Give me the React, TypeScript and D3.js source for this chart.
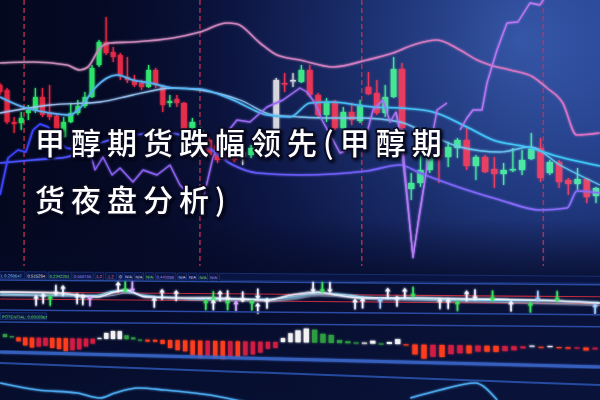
import React from 'react';
import * as d3 from 'd3';

const W = 600;
const H = 400;

// daily candles [open, high, low, close]
const candles: [number, number, number, number][] = [
  [2695, 2697, 2685, 2688], [2690, 2692, 2656, 2658], [2658, 2663, 2647, 2656], [2657, 2668, 2650, 2662],
  [2667, 2675, 2660, 2670], [2670, 2692, 2667, 2683], [2683, 2692, 2663, 2665], [2667, 2695, 2660, 2663],
  [2664, 2665, 2643, 2647], [2643, 2663, 2642, 2658], [2658, 2677, 2657, 2667], [2667, 2680, 2665, 2674],
  [2674, 2688, 2672, 2683], [2683, 2715, 2682, 2712], [2715, 2740, 2713, 2738], [2738, 2763, 2725, 2727],
  [2728, 2733, 2718, 2723], [2725, 2727, 2700, 2705], [2703, 2723, 2697, 2700], [2700, 2705, 2693, 2695],
  [2697, 2700, 2690, 2693], [2693, 2715, 2692, 2710], [2710, 2712, 2692, 2695], [2693, 2695, 2668, 2675],
  [2677, 2685, 2673, 2679], [2681, 2685, 2673, 2677], [2677, 2678, 2646, 2648], [2652, 2662, 2649, 2658],
  [2647, 2653, 2644, 2650], [2640, 2643, 2622, 2625], [2635, 2638, 2617, 2620], [2632, 2635, 2620, 2624],
  [2643, 2645, 2618, 2620], [2628, 2632, 2615, 2623], [2625, 2635, 2622, 2632], [2635, 2638, 2625, 2628],
  [2632, 2645, 2630, 2642], [2650, 2702, 2648, 2700], [2697, 2707, 2688, 2696], [2699, 2707, 2693, 2700],
  [2698, 2715, 2697, 2710], [2710, 2715, 2683, 2685], [2685, 2687, 2663, 2665], [2665, 2682, 2658, 2678],
  [2678, 2680, 2650, 2652], [2652, 2673, 2648, 2668], [2668, 2677, 2655, 2660], [2659, 2680, 2657, 2674],
  [2693, 2708, 2685, 2686], [2687, 2700, 2665, 2667], [2667, 2695, 2663, 2683], [2683, 2723, 2682, 2711],
  [2711, 2717, 2650, 2652], [2591, 2607, 2580, 2597], [2597, 2625, 2593, 2610], [2610, 2633, 2607, 2627],
  [2632, 2637, 2597, 2623], [2623, 2638, 2613, 2633], [2632, 2642, 2622, 2640], [2640, 2652, 2610, 2614],
  [2614, 2625, 2600, 2623], [2623, 2625, 2607, 2608], [2611, 2623, 2592, 2606], [2606, 2617, 2595, 2610],
  [2610, 2632, 2608, 2611], [2610, 2630, 2605, 2620], [2621, 2647, 2620, 2631], [2632, 2642, 2598, 2602],
  [2607, 2620, 2605, 2618], [2618, 2620, 2592, 2598], [2600, 2602, 2585, 2596], [2596, 2612, 2590, 2601],
  [2601, 2602, 2577, 2583], [2584, 2593, 2577, 2592],
];
const greyDays = [33, 37, 39];
const daySplits = [3.4, 27.9, 47.2, 67.3];

type Pt = [number, number | null];

const upperBand: Pt[] = [
  [0, 2717], [4.66, 2718], [9.47, 2715], [11.3, 2710], [12.43, 2713], [14.13, 2732], [15.54, 2737],
  [18.79, 2738], [24.45, 2742], [27.91, 2748], [31.13, 2757], [32.32, 2756], [35.06, 2737], [37.09, 2725],
  [39.83, 2720], [43.77, 2713], [47.82, 2720], [50.93, 2727], [53.19, 2735], [55.79, 2740], [58.28, 2730],
  [60.12, 2720], [61.52, 2715], [63.69, 2710], [66.18, 2703], [67.7, 2692], [69.4, 2677], [70.9, 2645],
  [73.4, 2647],
];
const midBand: Pt[] = [
  [0, 2683], [2.83, 2674], [7.07, 2667], [9.89, 2665], [11.3, 2672], [13.42, 2692], [15.12, 2702],
  [16.53, 2705], [18.79, 2700], [21.2, 2697], [24.45, 2692], [27.91, 2691], [31.84, 2680], [35.9, 2665],
  [38.64, 2663], [41.03, 2677], [43.77, 2678], [46.63, 2675], [48.54, 2673], [51.76, 2672], [55.35, 2668],
  [59.03, 2653], [61.85, 2640], [65.53, 2633], [69.1, 2623], [73.43, 2614],
];
const ma10: Pt[] = [
  [0, 2667], [7.07, 2675], [14.13, 2678], [18.79, 2685], [24.45, 2692], [27.91, 2690], [32.68, 2680],
  [36.61, 2665], [39.83, 2663], [43.41, 2662], [46.99, 2662], [51.76, 2658], [55.03, 2645], [58.28, 2633],
  [62.61, 2628], [65.85, 2633], [69.1, 2615], [73.43, 2595],
];
const lowerBand: Pt[] = [
  [0, 2617], [4.66, 2620], [9.47, 2623], [14.13, 2637], [18.79, 2645], [23.6, 2647], [27.91, 2638],
  [31.84, 2615], [34.71, 2607], [39.83, 2605], [47.82, 2609], [51.76, 2615], [53.95, 2607], [59.03, 2590],
  [62.61, 2580], [66.94, 2570], [69.87, 2572], [70.94, 2589], [73.43, 2587],
];
const blueTrace: Pt[] = [
  [0, 2585], [1.13, 2622], [2.54, 2630], [3.67, 2628], [4.66, 2650], [5.65, 2656], [6.78, 2653],
  [7.91, 2642], [9.33, 2632], [11.3, 2630], [13.42, 2635],
];
const violetTrace: Pt[] = [
  [12.29, 2640], [13.42, 2610], [14.55, 2623], [15.83, 2605], [16.96, 2612], [18.79, 2598], [20.21, 2610],
  [22.18, 2605], [24.02, 2615], [25.43, 2595], [27.07, 2582], [28.27, 2580], [29.46, 2623], [30.89, 2645],
  [32.32, 2660], [33.87, 2658], [35.9, 2673], [37.81, 2680], [39.83, 2692], [40.67, 2688], [41.62, 2677],
  [42.46, 2660], [43.77, 2640], [44.6, 2627], [45.56, 2630], [46.63, 2637], [47.82, 2647], [48.54, 2670],
  [49.73, 2680], [50.57, 2658], [51.28, 2668], [52.0, 2640], [53.19, 2523], [54.16, 2580], [54.81, 2620],
  [55.79, 2670], [56.87, 2677], [57.5, null], [58.28, 2650], [59.03, 2662], [59.68, 2670], [60.66, 2670],
  [61.2, 2697], [62.28, 2730], [63.36, 2757], [64.55, 2758], [65.85, 2777], [66.94, 2775], [67.8, 2788],
];
const violetSpike: Pt[] = [
  [51.28, 2668], [51.76, 2647], [53.19, 2522], [53.84, 2565], [54.38, 2595],
];

// signal panel
const sigMain: Pt[] = [
  [0, 20], [8.05, 19.5], [13.6, 15.8], [16.25, 21], [17.8, 23], [20.5, 16.2], [24.3, 15.4], [29.1, 15.7],
  [36.0, 14.1], [38.8, 19.3], [42.0, 22.5], [44.2, 19.7], [47.5, 16.9], [54.1, 17.4], [60.2, 16.8],
  [66.5, 16.3], [73.4, 13.8],
];
const sigFast: Pt[] = [
  [0, 18], [8.05, 17], [13.6, 17.5], [16.25, 22], [17.8, 21.5], [20.5, 17.5], [24.3, 16], [29.1, 14.5],
  [36.0, 15], [38.8, 17], [42.0, 21], [44.2, 21], [47.5, 18], [54.1, 16], [60.2, 15.5], [66.5, 15.5],
  [73.4, 14.5],
];
const sigSlow: Pt[] = [
  [0, 16.5], [8.05, 16.5], [13.6, 16], [16.25, 18], [17.8, 20], [20.5, 18], [24.3, 15], [29.1, 13.5],
  [36.0, 13], [38.8, 15], [42.0, 19], [44.2, 18.5], [47.5, 16], [54.1, 15], [60.2, 14], [66.5, 13],
  [73.4, 11.5],
];
const sigLevels = [20, 13];
// [day, level, direction (1 up, -1 down), tone]
const arrows: [number, number, number, string][] = [
  [5.1, 12, 1, 'w'], [6.1, 14, 1, 'w'], [7.1, 12, 1, 'g'], [7.9, 22, -1, 'w'], [8.9, 22, 1, 'w'],
  [10.9, 14, 1, 'w'], [11.7, 13, 1, 'w'], [12.7, 12, 1, 'p'], [16.7, 26, 1, 'w'], [17.7, 26, -1, 'g'],
  [18.7, 26, -1, 'p'], [21.8, 11, 1, 'w'], [22.9, 19, 1, 'w'], [24.9, 18, 1, 'w'], [28.6, 9, 1, 'g'],
  [29.5, 17, -1, 'g'], [29.5, 9, 1, 'w'], [30.3, 18, 1, 'w'], [31.2, 18, -1, 'w'], [31.2, 9, 1, 'g'],
  [32.2, 8, 1, 'p'], [33.0, 17, -1, 'w'], [34.1, 9, 1, 'g'], [34.8, 20, -1, 'w'], [34.8, 6, 1, 'w'],
  [35.9, 11, 1, 'w'], [41.4, 27, -1, 'w'], [42.5, 27, -1, 'g'], [43.4, 27, -1, 'w'], [46.4, 11, 1, 'w'],
  [47.3, 12, 1, 'w'], [49.4, 12, 1, 'b'], [50.3, 22, 1, 'w'], [51.4, 14, 1, 'w'], [52.3, 22, 1, 'w'],
  [53.2, 23, -1, 'g'], [56.1, 12, 1, 'w'], [57.0, 12, 1, 'w'], [58.0, 10, 1, 'g'], [59.0, 20, 1, 'w'],
  [59.9, 21, -1, 'w'], [61.8, 20, -1, 'g'], [63.8, 10, 1, 'w'], [65.9, 9, 1, 'g'], [66.7, 20, -1, 'b'],
  [68.8, 20, -1, 'g'], [72.9, 8, 1, 'b'],
];

const readout = [
  { t: 'L 0.260647', c: '#8fd0ff' }, { t: '0.515294', c: '#e6e6ee' }, { t: '0.2342251', c: '#62e070' },
  { t: '0.550755', c: '#8f8cff' }, { t: '1.2', c: '#ff6a6a' }, { t: '-1.2', c: '#ff6a6a' },
  { t: '0', c: '#ffffff' }, { t: 'N/A', c: '#d4dcff' }, { t: 'N/A', c: '#d4dcff' },
  { t: 'N/A', c: '#74e074' }, { t: '0.441056', c: '#a696ff' }, { t: 'N/A', c: '#d4dcff' },
  { t: 'N/A', c: '#d4dcff' }, { t: 'N/A', c: '#74e074' }, { t: 'N/A', c: '#a696ff' },
];

// MACD-style histogram
const hist = [
  3, 1, -4, -8, -10, -9, -8, -10, -11, -13, -12, -11, -8, -5, 1, 6, 8, 8, 4, 2,
  0, -2, -2, -4, -8, -10, -11, -15, -17, -15, -17, -18, -16, -16, -14, -13, -11, -7, -6, 4,
  9, 12, 14, 13, 9, 8, 3, 2, 1, 1, 3, 0.5, 2, 5, -1, -10, -14, -12, -12, -9,
  -8, -8, -6, -6, -6, -5, -4, -2, 1, -1, 1, -1, -1.5, -1, -3, -1.5,
];

const osc: Pt[] = [
  [0, 20], [5.4, 13], [10.9, 10], [14.1, 5], [16.25, 10], [19.5, 15], [23.3, 13], [29.1, 8], [33.3, 1],
  [40, null], [52.9, 5], [56.1, 13], [59.9, 20], [62.3, 3],
];

const titleLines = ['甲醇期货跌幅领先(甲醇期', '货夜盘分析)'];

const xMain = d3.scaleLinear().domain([0, 26, 52, 73]).range([0, 184, 402, 596]);
const yMain = d3.scaleLinear().domain([2500, 2780]).range([280, 0]);
const ySig = d3.scaleLinear().domain([0, 30]).range([312, 282]);
const xHist = d3.scaleLinear().domain([0, 20, 41, 54, 75]).range([5, 140, 298, 406, 595]);
const yHist = d3.scaleLinear().domain([0, 20]).range([337, 317]);
const yOsc = d3.scaleLinear().domain([0, 20]).range([403, 383]);

const upCol = d3.interpolateRgb('#22e35a', '#52e6ad');
const downCol = d3.interpolateRgb('#e3233b', '#e8456c');
const arrowCol: Record<string, string> = { w: '#f2f4ff', g: '#3ee25e', p: '#d6a8ff', b: '#a4ccff' };

const lineMain = d3.line<Pt>().defined(d => d[1] !== null).x(d => xMain(d[0])).y(d => yMain(d[1] as number)).curve(d3.curveMonotoneX);
const lineZig = d3.line<Pt>().defined(d => d[1] !== null).x(d => xMain(d[0])).y(d => yMain(d[1] as number));
const lineSig = d3.line<Pt>().x(d => xMain(d[0])).y(d => ySig(d[1] as number)).curve(d3.curveMonotoneX);
const lineOsc = d3.line<Pt>().defined(d => d[1] !== null).x(d => xMain(d[0])).y(d => yOsc(d[1] as number)).curve(d3.curveMonotoneX);

function step(i: number) {
  return xMain(i + 1) - xMain(i);
}

function arrowPath(cx: number, cy: number, dir: number) {
  const s = dir; // 1 = up
  const tip = cy - 5.5 * s;
  const neck = cy - 1.8 * s;
  const tail = cy + 5.5 * s;
  return `M${cx},${tip}L${cx - 2.8},${neck}L${cx - 0.8},${neck}L${cx - 0.8},${tail}L${cx + 0.8},${tail}L${cx + 0.8},${neck}L${cx + 2.8},${neck}Z`;
}

export default function App() {
  let cx = 1;
  const cells = readout.map(r => {
    const w = r.t.length * 2.3;
    const cell = { ...r, x: cx, w };
    cx += w + 3.6;
    return cell;
  });

  return (
    <svg width={W} height={H} viewBox={`0 0 ${W} ${H}`} style={{ position: 'absolute', left: 0, top: 0, display: 'block' }}>
      <defs>
        <radialGradient id="bgGlow" cx="520" cy="40" r="420" gradientUnits="userSpaceOnUse">
          <stop offset="0" stopColor="#3a5db2" />
          <stop offset="0.35" stopColor="#243f8a" />
          <stop offset="0.7" stopColor="#111d55" />
          <stop offset="1" stopColor="#070c2e" />
        </radialGradient>
        <linearGradient id="leftShade" x1="0" x2="600" y1="0" y2="0" gradientUnits="userSpaceOnUse">
          <stop offset="0" stopColor="#03071c" stopOpacity="0.85" />
          <stop offset="0.45" stopColor="#050a26" stopOpacity="0.35" />
          <stop offset="1" stopColor="#050a26" stopOpacity="0" />
        </linearGradient>
        <linearGradient id="bottomShade" x1="0" x2="0" y1="0" y2="400" gradientUnits="userSpaceOnUse">
          <stop offset="0.55" stopColor="#050a26" stopOpacity="0" />
          <stop offset="0.7" stopColor="#050a26" stopOpacity="0.75" />
          <stop offset="1" stopColor="#081236" stopOpacity="0.6" />
        </linearGradient>
        <linearGradient id="gUpper" x1="0" x2="600" gradientUnits="userSpaceOnUse">
          <stop offset="0" stopColor="#c48cb4" />
          <stop offset="1" stopColor="#d872c6" />
        </linearGradient>
        <linearGradient id="gMid" x1="0" x2="600" gradientUnits="userSpaceOnUse">
          <stop offset="0" stopColor="#5eaaf0" />
          <stop offset="1" stopColor="#3cc8f6" />
        </linearGradient>
        <linearGradient id="gMa" x1="0" x2="600" gradientUnits="userSpaceOnUse">
          <stop offset="0" stopColor="#a6c2f2" />
          <stop offset="1" stopColor="#5ccaf2" />
        </linearGradient>
        <linearGradient id="gLower" x1="0" x2="600" gradientUnits="userSpaceOnUse">
          <stop offset="0" stopColor="#4650ff" />
          <stop offset="0.5" stopColor="#6a5cf8" />
          <stop offset="1" stopColor="#8e6ef8" />
        </linearGradient>
        <linearGradient id="gZig" x1="0" x2="600" gradientUnits="userSpaceOnUse">
          <stop offset="0" stopColor="#7a58f0" />
          <stop offset="1" stopColor="#c47ef4" />
        </linearGradient>
        <filter id="glow" x="-10%" y="-10%" width="120%" height="120%">
          <feGaussianBlur stdDeviation="1.3" result="b" />
          <feMerge>
            <feMergeNode in="b" />
            <feMergeNode in="SourceGraphic" />
          </feMerge>
        </filter>
        <filter id="titleShadow" x="-5%" y="-20%" width="110%" height="150%">
          <feDropShadow dx="1.5" dy="1.5" stdDeviation="1.5" floodColor="#000010" floodOpacity="0.9" />
        </filter>
        <clipPath id="mainClip">
          <rect x="0" y="0" width={W} height="266" />
        </clipPath>
      </defs>

      <rect width={W} height={H} fill="url(#bgGlow)" />
      <rect width={W} height={H} fill="url(#leftShade)" />
      <rect width={W} height={H} fill="url(#bottomShade)" />

      {/* price panel */}
      <g clipPath="url(#mainClip)">
        {daySplits.map((d, i) => (
          <line key={i} x1={xMain(d)} x2={xMain(d)} y1={0} y2={266} stroke="#c8324e" strokeWidth={1.5} strokeDasharray="5 3" opacity={0.85} />
        ))}

        <g filter="url(#glow)">
          {candles.map(([o, h, l, c], i) => {
            const x = xMain(i);
            const bw = step(Math.min(i, 72)) * 0.68;
            const t = i / (candles.length - 1);
            const col = greyDays.includes(i) ? '#d6d6dc' : c >= o ? upCol(t) : downCol(t);
            const top = yMain(Math.max(o, c));
            const bh = Math.max(1.5, yMain(Math.min(o, c)) - top);
            return (
              <g key={i}>
                <line x1={x} x2={x} y1={yMain(h)} y2={yMain(l)} stroke={col} strokeWidth={1.2} />
                <rect x={x - bw / 2} y={top} width={bw} height={bh} fill={col} />
              </g>
            );
          })}
        </g>

        <g fill="none" strokeLinejoin="round" filter="url(#glow)">
          <path d={lineMain(upperBand) || ''} stroke="url(#gUpper)" strokeWidth={1.6} />
          <path d={lineMain(ma10) || ''} stroke="url(#gMa)" strokeWidth={1.3} opacity={0.9} />
          <path d={lineMain(midBand) || ''} stroke="url(#gMid)" strokeWidth={1.6} />
          <path d={lineMain(lowerBand) || ''} stroke="url(#gLower)" strokeWidth={1.7} />
          <path d={lineZig(blueTrace) || ''} stroke="#3c44ff" strokeWidth={1.6} />
          <path d={lineZig(violetTrace) || ''} stroke="url(#gZig)" strokeWidth={1.4} />
          <path d={lineZig(violetSpike) || ''} stroke="#b07cf2" strokeWidth={1.1} />
        </g>
      </g>

      {/* signal panel */}
      <g transform="skewY(0.46)">
        <line x1={0} x2={W} y1={268} y2={268} stroke="#3266d0" strokeWidth={2.5} filter="url(#glow)" />
        <line x1={0} x2={W} y1={280} y2={280} stroke="#2a4da4" strokeWidth={1.5} />
        {cells.map((c, i) => (
          <g key={i}>
            <rect x={c.x - 1} y={271.5} width={c.w + 2} height={7} fill="#0a1442" stroke="#22408e" strokeWidth={0.6} />
            <text x={c.x} y={277.3} fontSize={4.2} fontFamily="Liberation Sans, Arial, sans-serif" fill={c.c}>{c.t}</text>
          </g>
        ))}
        <rect x={cx - 1} y={271.5} width={W - cx + 2} height={7} fill="#0a1442" stroke="#22408e" strokeWidth={0.6} />

        {sigLevels.map((v, i) => (
          <line key={i} x1={0} x2={W} y1={ySig(v)} y2={ySig(v)} stroke="#c02a3e" strokeWidth={1.1} />
        ))}
        <g fill="none" filter="url(#glow)">
          <path d={lineSig(sigSlow) || ''} stroke="#8d96b6" strokeWidth={1} />
          <path d={lineSig(sigFast) || ''} stroke="#86d6f2" strokeWidth={1.1} />
          <path d={lineSig(sigMain) || ''} stroke="#eef3ff" strokeWidth={1.5} />
        </g>
        <g filter="url(#glow)">
          {arrows.map(([d, v, dir, tone], i) => (
            <path key={i} d={arrowPath(xMain(d), ySig(v), dir)} fill={arrowCol[tone]} />
          ))}
        </g>

        <line x1={0} x2={W} y1={310} y2={310} stroke="#2a4aa4" strokeWidth={1.5} />
        <rect x={0.5} y={312.5} width={46} height={7} fill="#0a1442" stroke="#22408e" strokeWidth={0.6} />
        <text x={2} y={318.3} fontSize={4.2} fontFamily="Liberation Sans, Arial, sans-serif" fill="#5fe070">POTENTIAL: 0.0010967</text>
        <line x1={0} x2={W} y1={322} y2={322} stroke="#2a4aa4" strokeWidth={1.5} />
      </g>

      {/* histogram panel */}
      <g transform="skewY(1.03)" filter="url(#glow)">
        {hist.map((v, i) => {
          const prev = i === 0 ? Infinity : hist[i - 1];
          let col: string;
          if (v >= 0) col = v >= prev ? '#f2f2f2' : '#2f9c40';
          else col = v <= prev ? '#ff3c1e' : '#d21f42';
          const w = (i < 41 ? 7.15 : 8.7) * 0.6;
          const y0 = yHist(0);
          const y1 = yHist(v);
          return <rect key={i} x={xHist(i) - w / 2} y={Math.min(y0, y1)} width={w} height={Math.max(1.2, Math.abs(y1 - y0))} fill={col} />;
        })}
      </g>

      {/* lower frame + oscillator */}
      <line x1={0} x2={W} y1={352} y2={367} stroke="#3a68cc" strokeWidth={3} opacity={0.9} filter="url(#glow)" />
      <line x1={0} x2={W} y1={363} y2={385} stroke="#2c55b2" strokeWidth={2} opacity={0.85} />
      <path d={lineOsc(osc) || ''} fill="none" stroke="#4aa6ea" strokeWidth={1.6} filter="url(#glow)" />

      {/* title overlay */}
      <g filter="url(#titleShadow)" fontFamily="Noto Sans CJK SC, sans-serif" fontSize={30} fontWeight={500} fill="#ffffff" stroke="#0a0a24" strokeWidth={3.5} strokeLinejoin="round" style={{ paintOrder: 'stroke' }} letterSpacing={6}>
        {titleLines.map((t, i) => (
          <text key={i} x={35} y={154 + i * 57}>{t}</text>
        ))}
      </g>
    </svg>
  );
}
